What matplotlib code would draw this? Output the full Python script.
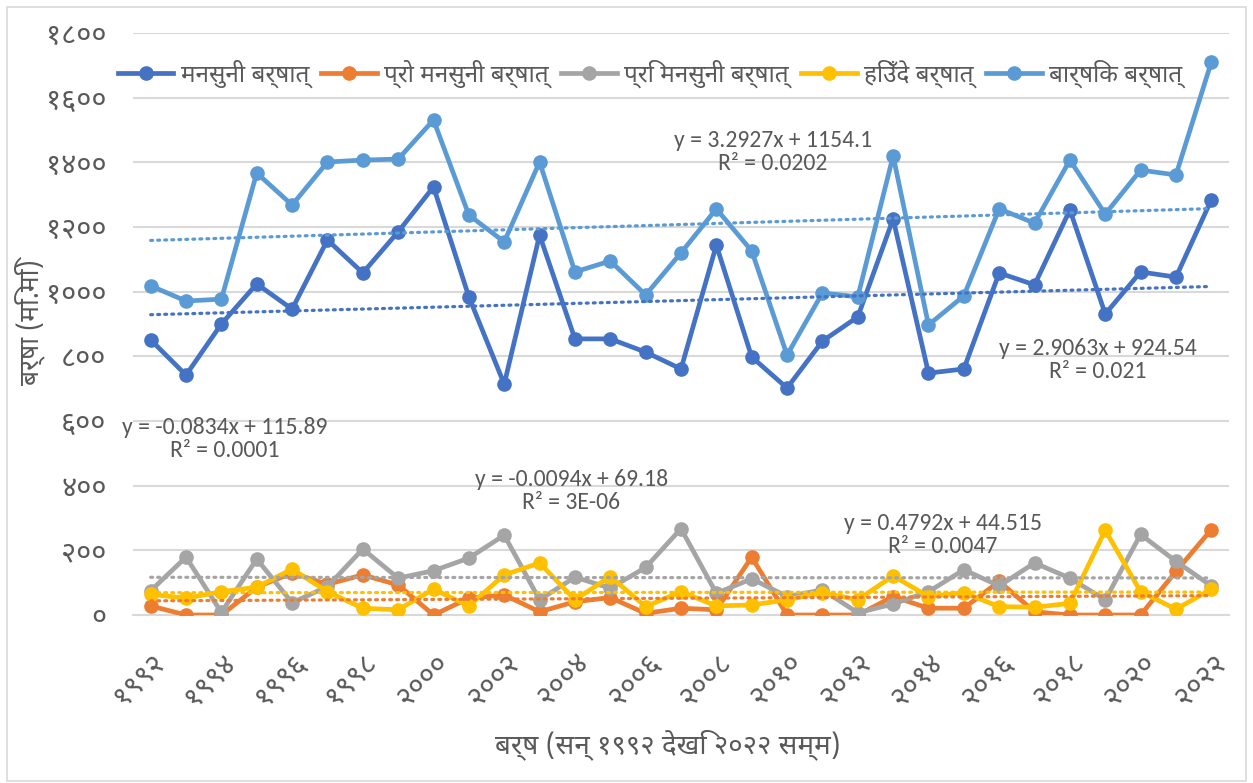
import matplotlib
matplotlib.use("Agg")
import matplotlib.pyplot as plt
from matplotlib import font_manager
from matplotlib.lines import Line2D
from matplotlib.patches import Rectangle
import numpy as np

years = list(range(1992, 2023))

monsoon = [851, 742, 900, 1024, 946, 1160, 1058, 1185, 1324, 984,
           714, 1175, 854, 854, 813, 761, 1144, 798, 702, 847,
           922, 1225, 748, 761, 1058, 1021, 1253, 931, 1061, 1045, 1284]
pro_monsoon = [28, 0, 0, 86, 130, 95, 124, 93, 0, 52,
               62, 10, 41, 54, 5, 21, 16, 179, 0, 0,
               0, 57, 21, 21, 104, 10, 0, 0, 0, 135, 264]
pre_monsoon = [75, 179, 8, 173, 38, 88, 204, 114, 137, 176,
               247, 47, 117, 83, 147, 267, 67, 112, 57, 78,
               7, 34, 72, 140, 90, 161, 114, 47, 249, 166, 90]
winter = [64, 52, 72, 86, 142, 72, 21, 16, 80, 28,
          124, 161, 47, 119, 26, 72, 28, 31, 47, 69,
          47, 121, 57, 69, 26, 24, 36, 262, 72, 18, 80]
annual = [1018, 971, 977, 1367, 1268, 1401, 1407, 1410, 1531, 1237,
          1154, 1401, 1061, 1095, 990, 1120, 1256, 1126, 804, 996,
          984, 1420, 897, 987, 1256, 1212, 1407, 1240, 1376, 1361, 1710]

series_names = ["मनसुनी बर्षात्", "प्रो मनसुनी बर्षात्", "प्रि मनसुनी बर्षात्",
                "हिउँदे बर्षात्", "बार्षिक बर्षात्"]
colors = ["#4472C4", "#ED7D31", "#A5A5A5", "#FFC000", "#5B9BD5"]

dev_digits = str.maketrans("0123456789", "०१२३४५६७८९")
y_ticks = [0, 200, 400, 600, 800, 1000, 1200, 1400, 1600, 1800]
x_ticks = years[::2]

# trendline labels: text, anchor year, anchor value
eq_labels = [
    ("y = 3.2927x + 1154.1\nR² = 0.0202", 2009.6, 1432),
    ("y = 2.9063x + 924.54\nR² = 0.021", 2018.8, 789),
    ("y = -0.0834x + 115.89\nR² = 0.0001", 1994.1, 544),
    ("y = -0.0094x + 69.18\nR² = 3E-06", 2003.9, 383),
    ("y = 0.4792x + 44.515\nR² = 0.0047", 2014.4, 247),
]

installed = set(f.name for f in font_manager.fontManager.ttflist)
latin = "Carlito" if "Carlito" in installed else "Open Sans"
dev = "Noto Sans Devanagari"
plt.rcParams["font.family"] = [dev, latin, "DejaVu Sans"]
txt_color = "#595959"

fig = plt.figure(figsize=(12.53, 7.83), dpi=100)
ax = fig.add_axes([133 / 1253, 1 - 615 / 783, (1229 - 133) / 1253, (615 - 33) / 783])

x = np.array(years)
data = [monsoon, pro_monsoon, pre_monsoon, winter, annual]
for vals, c, name in zip(data, colors, series_names):
    ax.plot(x, vals, color=c, lw=3.4, marker="o", ms=9.5, label=name,
            solid_joinstyle="round", zorder=3)

# linear trend lines (dotted)
t = np.arange(1, len(years) + 1)
for vals, c in zip(data, colors):
    k, b = np.polyfit(t, vals, 1)
    ax.plot(x, k * t + b, color=c, lw=2.3, ls=(0, (0.6, 1.6)),
            dash_capstyle="round", zorder=4)

for txt, xx, yy in eq_labels:
    ax.text(xx, yy, txt, ha="center", va="center", fontsize=17,
            color=txt_color, family=[latin, dev], linespacing=1.15, zorder=5)

ax.set_xlim(1991.5, 2022.5)
ax.set_ylim(0, 1800)
ax.set_yticks(y_ticks)
ax.set_yticklabels([str(v).translate(dev_digits) for v in y_ticks],
                   fontsize=21, color=txt_color)
ax.set_xticks(x_ticks)
ax.set_xticklabels([str(v).translate(dev_digits) for v in x_ticks],
                   fontsize=21, color=txt_color, rotation=45, ha="right",
                   rotation_mode="anchor")
ax.tick_params(axis="y", length=0, pad=19)
ax.tick_params(axis="x", length=0, pad=24)
ax.grid(axis="y", color="#D9D9D9", lw=1.5)
ax.set_axisbelow(True)
for s in ax.spines.values():
    s.set_visible(False)
ax.spines["bottom"].set_visible(True)
ax.spines["bottom"].set_color("#D9D9D9")
ax.spines["bottom"].set_linewidth(1.5)

fig.text(30 / 1253, 1 - 322 / 783, "बर्षा (मि.मि)", rotation=90, ha="center",
         va="center", fontsize=19, color=txt_color)
fig.text(668 / 1253, 1 - 745 / 783, "बर्ष (सन् १९९२ देखि २०२२ सम्म)", ha="center",
         va="center", fontsize=20, color=txt_color)

handles = [Line2D([], [], color=c, lw=3.4, marker="o", ms=9.5) for c in colors]
leg = fig.legend(handles, series_names, loc="center", ncol=5,
                 bbox_to_anchor=(650 / 1253, 1 - 74 / 783), frameon=False,
                 fontsize=17.5, handlelength=2.3, columnspacing=0.5,
                 handletextpad=0.3)
for t_ in leg.get_texts():
    t_.set_color(txt_color)

fig.patches.append(Rectangle((7 / 1253, 0.003), 1 - 14 / 1253, 1 - 7 / 783 - 0.003,
                             transform=fig.transFigure, fill=False,
                             ec="#D9D9D9", lw=1.2))

fig.savefig("out.png", dpi=100)
